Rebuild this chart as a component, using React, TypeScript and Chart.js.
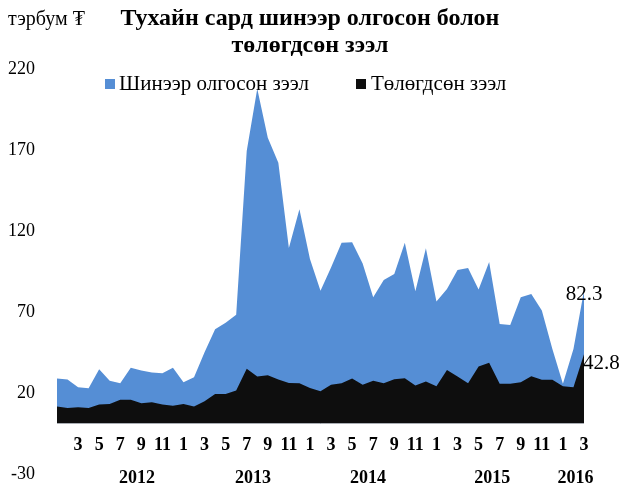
import React, { useEffect, useRef } from 'react';
import { Chart, registerables } from 'chart.js';

Chart.register(...registerables);

// Categories: months Jan 2012 – Mar 2016
const monthLabels = [
  '1', '2', '3', '4', '5', '6', '7', '8', '9', '10', '11', '12',
  '1', '2', '3', '4', '5', '6', '7', '8', '9', '10', '11', '12',
  '1', '2', '3', '4', '5', '6', '7', '8', '9', '10', '11', '12',
  '1', '2', '3', '4', '5', '6', '7', '8', '9', '10', '11', '12',
  '1', '2', '3',
];
const yearLabels = ['2012', '2013', '2014', '2015', '2016'];
const yearLabelCenters = [7.6, 18.6, 29.5, 41.3, 49.2];

const yTicks = [-30, 20, 70, 120, 170, 220];

const seriesNames = ['Шинээр олгосон зээл', 'Төлөгдсөн зээл'];

// Шинээр олгосон зээл (new loans)
const newLoans = [
  27.8, 27.2, 22.4, 21.8, 33.5, 26.5, 24.9, 34.4, 32.7, 31.5, 31.1, 34.4,
  25.5, 28.6, 44.0, 58.2, 62.3, 67.3, 168.5, 207.0, 176.7, 161.3, 108.5, 132.5,
  101.7, 82.1, 96.5, 111.7, 112.1, 99.0, 78.0, 88.7, 92.4, 111.7, 81.7, 108.4,
  75.5, 83.1, 94.9, 96.1, 82.9, 99.8, 61.5, 60.9, 78.0, 80.0, 69.8, 46.1,
  24.5, 46.1, 82.3,
];
// Төлөгдсөн зээл (repaid loans)
const repaidLoans = [
  10.5, 9.5, 10.1, 9.5, 11.7, 12.1, 14.6, 14.6, 12.5, 13.2, 11.7, 10.9,
  12.1, 10.5, 13.8, 18.3, 18.3, 20.4, 33.8, 29.0, 29.8, 27.2, 25.1, 24.9,
  22.0, 20.0, 24.0, 24.9, 27.8, 24.0, 26.5, 24.9, 27.4, 28.0, 23.5, 25.9,
  23.0, 33.1, 29.0, 24.9, 35.2, 37.5, 24.5, 24.5, 25.5, 29.2, 27.0, 27.0,
  23.0, 22.4, 42.8,
];

const BLUE = 'rgb(85,142,213)';
const BLACK = '#0e0e0e';
const SERIF = '"Liberation Serif", "Times New Roman", serif';

const decorPlugin = {
  id: 'decor',
  afterDraw(chart: any) {
    const { ctx, chartArea, scales } = chart;
    const x = scales.x;
    const y = scales.y;
    ctx.save();

    // baseline at zero
    const y0 = y.getPixelForValue(0);
    ctx.strokeStyle = '#a9adb3';
    ctx.lineWidth = 1;
    ctx.beginPath();
    ctx.moveTo(chartArea.left, Math.round(y0) + 0.5);
    ctx.lineTo(chartArea.right, Math.round(y0) + 0.5);
    ctx.stroke();

    ctx.fillStyle = '#000';
    // month labels
    ctx.font = `bold 18px ${SERIF}`;
    ctx.textAlign = 'center';
    ctx.textBaseline = 'middle';
    monthLabels.forEach((m, i) => {
      if (i > 0 && i % 2 === 0) {
        ctx.fillText(m, x.getPixelForValue(i), 445);
      }
    });
    // year labels
    yearLabels.forEach((yl, i) => {
      ctx.fillText(yl, x.getPixelForValue(yearLabelCenters[i]), 478);
    });

    // title
    ctx.font = `bold 24px ${SERIF}`;
    ctx.fillText('Тухайн сард шинээр олгосон болон', 310, 19);
    ctx.fillText('төлөгдсөн зээл', 310, 46);

    // unit
    ctx.font = `20px ${SERIF}`;
    ctx.textAlign = 'left';
    ctx.fillText('тэрбум ₮', 8, 20);

    // legend
    ctx.font = `21px ${SERIF}`;
    ctx.fillStyle = BLUE;
    ctx.fillRect(105, 79, 10, 10);
    ctx.fillStyle = '#000';
    ctx.fillText(seriesNames[0], 119, 84);
    ctx.fillStyle = BLACK;
    ctx.fillRect(356, 79, 10, 10);
    ctx.fillStyle = '#000';
    ctx.fillText(seriesNames[1], 371, 84);

    // data labels on last point
    const last = monthLabels.length - 1;
    const lx = x.getPixelForValue(last);
    ctx.font = `21px ${SERIF}`;
    ctx.textAlign = 'center';
    ctx.fillText(newLoans[last].toFixed(1), lx, y.getPixelForValue(newLoans[last]) + 4);
    ctx.textAlign = 'left';
    ctx.fillText(repaidLoans[last].toFixed(1), lx - 1, y.getPixelForValue(repaidLoans[last]) + 9);

    ctx.restore();
  },
};

export default function App() {
  const canvasRef = useRef<HTMLCanvasElement | null>(null);

  useEffect(() => {
    if (!canvasRef.current) return;
    const chart = new Chart(canvasRef.current, {
      type: 'line',
      data: {
        labels: monthLabels,
        datasets: [
          {
            label: seriesNames[0],
            data: newLoans,
            backgroundColor: BLUE,
            borderColor: BLUE,
            borderWidth: 0,
            pointRadius: 0,
            fill: 'origin',
            tension: 0,
            order: 1,
          },
          {
            label: seriesNames[1],
            data: repaidLoans,
            backgroundColor: BLACK,
            borderColor: BLACK,
            borderWidth: 0,
            pointRadius: 0,
            fill: 'origin',
            tension: 0,
            order: 0,
          },
        ],
      },
      options: {
        responsive: false,
        animation: false,
        devicePixelRatio: 1,
        layout: { autoPadding: false, padding: { top: 67.7, right: 38, bottom: 19, left: 0 } },
        plugins: {
          legend: { display: false },
          title: { display: false },
          tooltip: { enabled: false },
        },
        scales: {
          x: {
            display: false,
            offset: false,
          },
          y: {
            min: -30,
            max: 220,
            afterBuildTicks: (scale: any) => {
              scale.ticks = yTicks.map((v) => ({ value: v }));
            },
            afterFit: (scale: any) => {
              scale.width = 57;
              scale.paddingTop = 0;
              scale.paddingBottom = 0;
            },
            grid: { display: false, drawTicks: false },
            border: { display: false },
            ticks: {
              padding: 22,
              labelOffset: 2,
              color: '#000',
              font: { family: SERIF, size: 18 },
            },
          },
        },
      },
      plugins: [decorPlugin],
    });
    return () => chart.destroy();
  }, []);

  return (
    <div style={{ position: 'fixed', left: 0, top: 0, width: 622, height: 491, background: '#fff' }}>
      <canvas ref={canvasRef} width={622} height={491} />
    </div>
  );
}
